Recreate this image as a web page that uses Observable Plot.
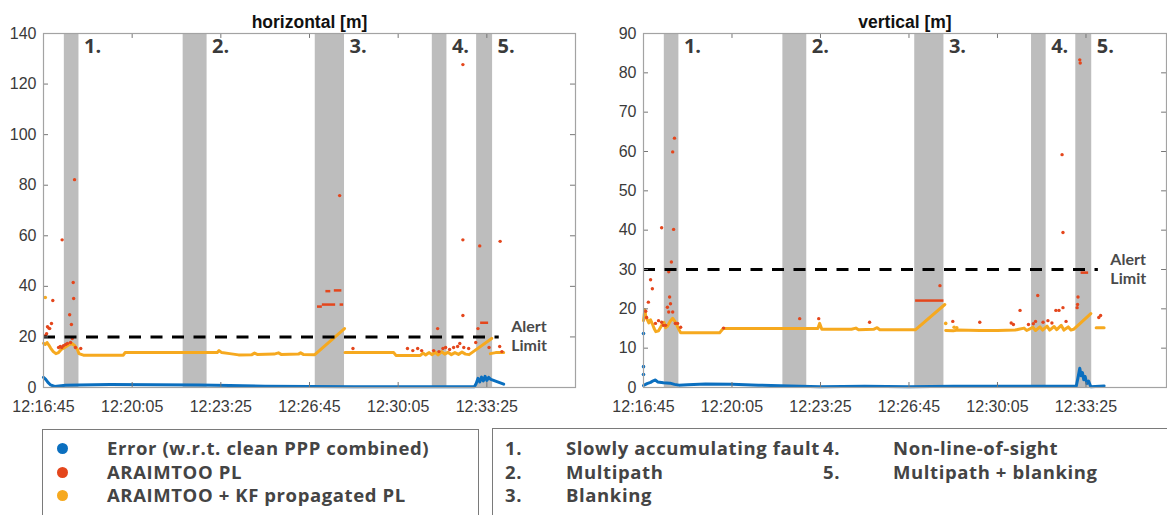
<!DOCTYPE html>
<html><head><meta charset="utf-8">
<script src="https://cdn.jsdelivr.net/npm/d3@7"></script>
<script src="https://cdn.jsdelivr.net/npm/@observablehq/plot@0.6"></script>
<style>
body{margin:0;background:#fff;width:1167px;height:515px;overflow:hidden;position:relative;font-family:"Open Sans",sans-serif;}
#left{position:absolute;left:0;top:0}
#right{position:absolute;left:600px;top:0}
.box{position:absolute;border:1.5px solid #7a7a7a;box-sizing:border-box;background:#fff}
.t{position:absolute;height:24px;line-height:24px;font-weight:700;font-size:18.5px;letter-spacing:0.6px;color:#444;white-space:nowrap}
.dot{position:absolute;width:11px;height:11px;border-radius:50%}
</style></head>
<body>
<div id="left"></div><div id="right"></div>
<div id="legends"></div>
<script>
// time in seconds after 12:16:45
const T0 = 12*3600 + 16*60 + 45;
const xTicks = [0, 200, 400, 600, 800, 1000];
const yTicksH = [0, 20, 40, 60, 80, 100, 120, 140];
const yTicksV = [0, 10, 20, 30, 40, 50, 60, 70, 80, 90];

const bandStart = [47, 315, 613, 877, 977];
const bandEnd   = [80, 369, 679, 910, 1013];
const bandLabels = ["1.", "2.", "3.", "4.", "5."];

const alertH = 20, alertV = 30, alertEnd = 1028;
const alertWords = ["Alert", "Limit"];

// ---- horizontal ----
const hBlue = [[0,4.0],[5,3.2],[10,2.0],[16,1.0],[25,0.4],[35,0.6],[50,0.9],[80,1.0],[150,1.2],[250,1.1],[350,1.0],[420,0.8],[500,0.5],[600,0.4],[700,0.3],[800,0.3],[900,0.3],[972,0.3],[976,1.6],[980,3.6],[984,2.2],[988,4.1],[992,2.6],[996,4.4],[1000,2.8],[1004,4.0],[1009,3.2],[1038,1.3]];
const hOrange = [[0,17.5],[4,17.0],[8,17.8],[12,16.8],[16,15.6],[22,14.2],[28,13.4],[34,13.8],[40,15.0],[46,15.6],[52,16.3],[58,17.0],[64,17.4],[70,16.6],[76,15.2],[80,13.4],[90,12.8],[180,12.8],[184,13.8],[392,13.8],[396,14.6],[402,13.8],[420,13.4],[440,12.9],[470,13.0],[476,13.6],[482,13.1],[520,13.2],[530,13.7],[536,13.1],[575,13.2],[580,13.7],[586,13.1],[612,13.0],[679,23.3],[679,NaN],[680,13.8],[790,13.8],[795,12.7],[850,12.7],[856,13.6],[862,12.9],[870,13.8],[876,13.0],[884,13.9],[890,12.9],[898,14.2],[905,13.2],[912,13.9],[920,13.0],[928,13.8],[936,13.1],[944,14.0],[952,13.2],[960,13.0],[1011,19.4],[1011,NaN],[1008,13.4],[1020,13.8],[1038,13.8]];
const hOrangeDots = [[4,35.6]];
const hRed = [[4,20.5],[7,21.3],[9,24.0],[12,23.5],[14,23.3],[18,25.3],[21,34.4],[34,15.8],[38,16.2],[41,15.8],[42,58.4],[45,16.5],[50,17.0],[54,17.4],[59,28.8],[61,17.8],[63,24.9],[65,19.4],[67,41.5],[68,35.2],[70,82.2],[72,15.8],[84,15.4],[668,75.9],[698,15.4],[821,15.4],[833,14.6],[844,15.4],[853,14.6],[880,14.6],[889,23.3],[892,14.2],[901,15.4],[907,15.8],[916,15.0],[925,15.8],[934,16.2],[939,17.4],[946,28.5],[946,58.4],[946,127.7],[948,15.8],[959,15.4],[975,17.8],[980,23.3],[984,56.0],[1005,15.8],[1029,16.2],[1030,57.8],[1034,14.2]];
const hRedSeg = [[618,629,32.0],[629,659,32.8],[669,677,32.8],[637,648,38.1],[656,673,38.4],[986,1004,25.6]];

// ---- vertical ----
const vBlue = [[0,0.5],[8,1.0],[16,1.3],[22,1.7],[27,1.9],[32,1.4],[45,1.2],[60,1.1],[70,0.8],[80,0.6],[100,0.7],[140,0.9],[200,0.8],[260,0.6],[330,0.4],[400,0.2],[500,0.3],[600,0.2],[700,0.3],[800,0.3],[900,0.3],[978,0.3],[982,2.5],[986,4.9],[989,3.0],[992,3.8],[995,2.0],[998,2.8],[1002,1.0],[1006,1.6],[1011,0.2],[1041,0.4]];
const vBlueDots = [[0,13.7],[0,5.3],[0,3.3]];
const vOrange = [[0,17.0],[3,19.8],[5,18.2],[8,17.4],[12,16.4],[16,17.2],[20,16.2],[24,15.0],[28,14.2],[34,14.4],[40,15.6],[46,16.6],[50,15.2],[54,15.6],[60,16.8],[66,17.6],[72,16.6],[78,15.2],[84,13.9],[172,13.9],[180,15.0],[394,15.0],[398,16.3],[403,14.8],[470,14.8],[480,15.1],[486,14.7],[520,14.8],[528,15.2],[534,14.7],[615,14.7],[681,21.1],[681,NaN],[683,14.5],[700,14.4],[710,14.6],[760,14.5],[800,14.5],[840,14.6],[860,15.1],[866,14.5],[880,15.3],[886,14.5],[896,15.4],[902,14.6],[912,15.6],[918,14.6],[928,15.5],[934,14.7],[944,15.8],[950,14.6],[960,15.4],[966,14.6],[972,14.8],[1011,18.8],[1011,NaN],[1023,15.2],[1041,15.2]];
const vOrangeDots = [[683,16.3],[702,15.3],[708,15.2]];
const vRed = [[5,19.4],[7,17.8],[11,21.7],[16,27.4],[20,25.1],[27,16.3],[34,17.0],[41,40.6],[41,16.6],[45,15.8],[50,15.8],[54,20.4],[57,19.2],[57,29.4],[59,23.0],[61,21.3],[63,31.9],[66,59.9],[66,19.2],[68,40.2],[70,63.4],[72,16.3],[77,16.3],[84,15.3],[181,15.1],[353,17.5],[396,17.5],[511,16.6],[670,25.9],[699,16.8],[760,16.6],[831,16.4],[836,16.0],[851,19.6],[870,16.0],[881,16.2],[886,16.8],[891,23.4],[903,16.6],[914,17.0],[923,16.4],[932,19.6],[939,19.6],[946,59.2],[948,39.4],[948,20.3],[955,16.8],[980,20.3],[981,21.1],[982,23.0],[986,83.3],[987,82.5],[1029,17.8],[1033,18.3]];
const vRedSeg = [[615,679,22.1],[989,1006,29.2]];

const BLUE = "#0b6fbf", RED = "#e4461c", YELLOW = "#f6a91f", BAND = "#bdbdbd";

const seriesNames = ["Error (w.r.t. clean PPP combined)", "ARAIMTOO PL", "ARAIMTOO + KF propagated PL"];
const seriesColors = [BLUE, RED, YELLOW];
const faultNums = ["1.", "2.", "3.", "4.", "5."];
const faultNames = ["Slowly accumulating fault", "Multipath", "Blanking", "Non-line-of-sight", "Multipath + blanking"];

const fmt = s => { const t = T0 + s; const h = Math.floor(t/3600), m = Math.floor((t%3600)/60), ss = t%60;
  return `${h}:${String(m).padStart(2,"0")}:${String(ss).padStart(2,"0")}`; };

const bands = bandStart.map((s,i) => ({t1: s, t2: bandEnd[i], label: bandLabels[i]}));

function panel({title, width, mr, xMax, yMax, yTicks, blue, blueDots, orange, orangeDots, red, redSeg, alert}) {
  const X = d => d[0], Y = d => d[1];
  const alertRow = [{t1: 0, t2: alertEnd, v: alert}];
  const alertFont = {fontFamily: "Lato, sans-serif", fontWeight: "bold", fontSize: 16, fill: "#4a4a4a", textAnchor: "start", lineAnchor: "bottom", dx: 12};
  return Plot.plot({
    width, height: 427, marginLeft: 43, marginRight: mr, marginTop: 33, marginBottom: 40,
    x: {domain: [0, xMax]}, y: {domain: [0, yMax]},
    style: {fontFamily: "'Liberation Sans', Arial, sans-serif", fontSize: "16px", color: "#3a3a3a", background: "transparent", overflow: "visible"},
    marks: [
      Plot.rect(bands, {x1: "t1", x2: "t2", fill: BAND}),
      Plot.text(bands, {x: "t2", text: "label", frameAnchor: "top", textAnchor: "start", lineAnchor: "top", dx: 5, dy: 5,
        fontFamily: "'Open Sans', sans-serif", fontWeight: "bold", fontSize: 20, fill: "#3a3a3a"}),
      Plot.line(blue, {x: X, y: Y, stroke: BLUE, strokeWidth: 3}),
      Plot.dot(blueDots, {x: X, y: Y, r: 1.8, fill: BLUE, stroke: null}),
      Plot.line(orange, {x: X, y: Y, stroke: YELLOW, strokeWidth: 3}),
      Plot.dot(orangeDots, {x: X, y: Y, r: 1.8, fill: YELLOW, stroke: null}),
      Plot.dot(red, {x: X, y: Y, r: 1.7, fill: RED, stroke: null}),
      Plot.ruleY(redSeg, {x1: d => d[0], x2: d => d[1], y: d => d[2], stroke: RED, strokeWidth: 2.5}),
      Plot.ruleY(alertRow, {x1: "t1", x2: "t2", y: "v", stroke: "#000", strokeWidth: 3, strokeDasharray: "12,9.5"}),
      Plot.text(alertRow, {x: "t2", y: "v", text: () => alertWords[0], dy: -5, ...alertFont}),
      Plot.text(alertRow, {x: "t2", y: "v", text: () => alertWords[1], dy: 14.5, ...alertFont}),
      Plot.text([title], {text: d => d, frameAnchor: "top", lineAnchor: "bottom", dy: -6, fontWeight: "bold", fontSize: 17.5, fill: "#111"}),
      Plot.axisX(xTicks, {anchor: "bottom", tickSize: -5, tickPadding: 18, tickFormat: fmt, stroke: "#777", label: null}),
      Plot.axisY(yTicks, {anchor: "left", tickSize: -5, tickPadding: 12, stroke: "#777", label: null}),
      Plot.ruleX(xTicks, {x: d => d, y1: yMax, y2: yMax * 0.986, stroke: "#777"}),
      Plot.ruleY(yTicks, {y: d => d, x1: xMax, x2: xMax * 0.9906, stroke: "#777"}),
      Plot.frame({stroke: "#a3a3a3", strokeWidth: 1.2})
    ]
  });
}

document.getElementById("left").append(panel({title: "horizontal [m]", width: 600, mr: 25, xMax: 1200, yMax: 140, yTicks: yTicksH,
  blue: hBlue, blueDots: [], orange: hOrange, orangeDots: hOrangeDots, red: hRed, redSeg: hRedSeg, alert: alertH}));
document.getElementById("right").append(panel({title: "vertical [m]", width: 567, mr: 1, xMax: 1182, yMax: 90, yTicks: yTicksV,
  blue: vBlue, blueDots: vBlueDots, orange: vOrange, orangeDots: vOrangeDots, red: vRed, redSeg: vRedSeg, alert: alertV}));

// legends
const L = document.getElementById("legends");
const rowsY = [448, 472, 495];
let html = `<div class="box" style="left:42px;top:429px;width:437px;height:120px"></div>`;
seriesNames.forEach((n, i) => {
  html += `<div class="dot" style="left:57px;top:${rowsY[i]-5.5}px;background:${seriesColors[i]}"></div>`;
  html += `<div class="t" style="left:107px;top:${rowsY[i]-12}px">${n}</div>`;
});
html += `<div class="box" style="left:492px;top:428px;width:700px;height:120px"></div>`;
faultNames.forEach((n, i) => {
  const col = i < 3 ? 0 : 1, row = i < 3 ? i : i - 3;
  html += `<div class="t" style="left:${col ? 823 : 505}px;top:${rowsY[row]-12}px">${faultNums[i]}</div>`;
  html += `<div class="t" style="left:${col ? 893 : 566}px;top:${rowsY[row]-12}px">${n}</div>`;
});
L.innerHTML = html;
</script>
</body></html>
